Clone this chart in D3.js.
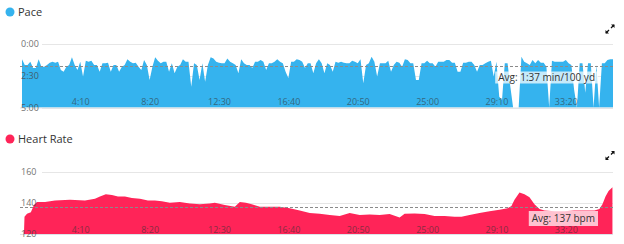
<!DOCTYPE html>
<html>
<head>
<meta charset="utf-8">
<script src="https://cdn.jsdelivr.net/npm/d3@7/dist/d3.min.js"></script>
<style>
  body { margin: 0; background: #fff; }
  svg { display: block; font-family: "Open Sans", sans-serif; }
</style>
</head>
<body>
<div id="chart"></div>
<script>
// pace samples, seconds per 100 yd, one every 10 s starting at 0:40
const paceStart = 40;
const paceStep = 10;
const paceValues = [
  72, 99, 99, 84, 113, 113, 72, 107, 107, 99,
  88, 84, 88, 84, 123, 131, 107, 99, 63, 99,
  123, 84, 154, 79, 84, 79, 99, 99, 131, 91,
  91, 88, 131, 99, 99, 131, 107, 99, 72, 84,
  91, 88, 107, 123, 76, 99, 170, 107, 63, 79,
  91, 84, 84, 131, 91, 138, 107, 99, 72, 84,
  84, 202, 91, 99, 170, 91, 178, 99, 63, 68,
  84, 88, 91, 91, 68, 84, 91, 99, 138, 72,
  91, 99, 99, 113, 84, 84, 76, 84, 123, 91,
  91, 84, 72, 84, 91, 131, 161, 84, 84, 72,
  76, 84, 113, 91, 91, 138, 91, 72, 91, 138,
  91, 99, 131, 84, 88, 84, 88, 91, 91, 79,
  84, 91, 72, 186, 99, 91, 60, 84, 154, 91,
  91, 91, 79, 131, 99, 84, 88, 107, 72, 76,
  91, 91, 170, 170, 91, 91, 79, 91, 91, 107,
  84, 84, 84, 76, 76, 88, 88, 131, 131, 88,
  88, 84, 84, 99, 131, 99, 99, 91, 84, 79,
  154, 84, 249, 265, 91, 91, 202, 310, 310, 310,
  60, 84, 91, 99, 76, 91, 76, 88, 88, 107,
  310, 79, 84, 84, 84, 84, 76, 91, 99, 217,
  310, 91, 91, 230, 91, 91, 310, 99, 310, 91,
  91, 76, 72, 72
];

// heart rate, time in seconds and bpm
const hrTimes = [
  47, 49, 58, 72, 83, 94, 123, 159, 213, 267,
  303, 321, 342, 364, 386, 411, 436, 465, 494, 519,
  544, 573, 609, 645, 681, 717, 735, 771, 807, 825,
  847, 868, 897, 933, 969, 1005, 1041, 1077, 1113, 1149,
  1185, 1221, 1257, 1293, 1329, 1365, 1401, 1419, 1455, 1491,
  1527, 1563, 1599, 1624, 1653, 1689, 1725, 1761, 1790, 1804,
  1815, 1833, 1851, 1869, 1887, 1905, 1923, 1959, 1995, 2031,
  2067, 2103, 2121, 2132, 2143, 2154, 2168
];
const hrValues = [
  120, 131, 133, 134, 138.5, 140.5, 140.5, 141.5, 142, 141.5,
  142.5, 144, 145.5, 145, 144, 144, 143, 142.5, 141.5, 141.5,
  141, 140, 140.5, 139.5, 139, 139.5, 140, 138.5, 137.5, 140.5,
  140, 139, 137.5, 137.5, 137.5, 136.5, 135, 133.5, 133, 132.2,
  131.5, 133.4, 132.2, 132.5, 132.2, 132.8, 130.5, 133, 133.2, 132.8,
  131.5, 131.5, 131, 131, 132.2, 133.5, 134.5, 135.5, 136.5, 138,
  142, 146.5, 145.5, 143.5, 139, 136, 135, 134.5, 134.5, 135,
  135, 135, 136, 139, 144, 147.5, 150
];

const xTicks = [250, 500, 750, 1000, 1250, 1500, 1750, 2000];
const paceTicks = [0, 150, 300];
const hrTicks = [120, 140, 160];

const paceAvgLine = 106;
const paceAvgLabel = 'Avg: 1:37 min/100 yd';
const hrAvg = 137;
const hrAvgLabel = 'Avg: 137 bpm';

const paceColor = '#35b3ee';
const hrColor = '#ff2458';

const fmtTime = s => `${Math.floor(s / 60)}:${String(s % 60).padStart(2, '0')}`;

const svg = d3.select('#chart')
  .append('svg')
  .attr('width', 624)
  .attr('height', 244);

// shared time scale
const x = d3.scaleLinear()
  .domain([40, 2170])
  .range([22, 613]);

const paceData = paceValues.map((v, i) => ({ t: paceStart + i * paceStep, v }));
const hrData = hrTimes.map((t, i) => ({ t, v: hrValues[i] }));

function panel(opts) {
  const g = svg.append('g');
  const y = opts.y;
  const [bottom, top] = y.range();

  // title with coloured dot
  g.append('circle')
    .attr('cx', 10).attr('cy', opts.titleY - 4).attr('r', 4.5)
    .attr('fill', opts.color);
  g.append('text')
    .attr('x', 18).attr('y', opts.titleY)
    .style('font-size', '11px')
    .style('fill', '#333')
    .text(opts.title);

  // gridlines
  g.selectAll('.grid')
    .data(opts.ticks)
    .enter()
    .append('line')
    .attr('x1', 42).attr('x2', 613)
    .attr('y1', d => Math.round(y(d)) + 0.5)
    .attr('y2', d => Math.round(y(d)) + 0.5)
    .attr('stroke', '#e6e6e6');

  // area
  const area = d3.area()
    .x(d => x(d.t))
    .y0(bottom)
    .y1(d => y(d.v));
  g.append('path')
    .datum(opts.data)
    .attr('d', area)
    .attr('fill', opts.color);

  // bottom rule
  g.append('line')
    .attr('x1', 20).attr('x2', 613)
    .attr('y1', bottom + 0.5).attr('y2', bottom + 0.5)
    .attr('stroke', '#dde2e8');

  // average line
  const ay = Math.round(y(opts.avgLine)) + 0.5;
  g.append('line')
    .attr('x1', 20).attr('x2', 613)
    .attr('y1', ay).attr('y2', ay)
    .attr('stroke', '#8a8a8a')
    .attr('stroke-dasharray', '3,2');

  // x axis labels inside the plot
  const xAxis = g.append('g')
    .attr('transform', `translate(0,${opts.xLabelY})`)
    .call(d3.axisBottom(x).tickValues(xTicks).tickFormat(fmtTime).tickSize(0).tickPadding(0));
  xAxis.select('.domain').remove();
  xAxis.selectAll('text')
    .attr('dy', 0)
    .style('font-family', '"Open Sans", sans-serif')
    .style('font-size', '9px')
    .style('fill', '#333')
    .style('opacity', 0.6);

  // y axis labels
  const yAxis = g.append('g')
    .attr('transform', 'translate(21,0)')
    .call(d3.axisRight(y).tickValues(opts.ticks).tickFormat(opts.yFormat).tickSize(0).tickPadding(0));
  yAxis.select('.domain').remove();
  yAxis.selectAll('text')
    .attr('dy', '0.33em')
    .style('font-family', '"Open Sans", sans-serif')
    .style('font-size', '9px')
    .style('fill', '#444')
    .style('opacity', 0.75);

  // average label
  const lbl = g.append('g');
  const txt = lbl.append('text')
    .attr('text-anchor', 'end')
    .attr('x', 595)
    .attr('y', ay + opts.avgTextDy)
    .style('font-size', '10px')
    .style('fill', '#333')
    .text(opts.avgLabel);
  const w = txt.node().getComputedTextLength();
  lbl.insert('rect', 'text')
    .attr('x', 595 - w - 3)
    .attr('y', ay + opts.avgBoxDy)
    .attr('width', w + 6)
    .attr('height', opts.avgBoxH)
    .attr('fill', '#fff')
    .attr('opacity', 0.72);

  // expand icon
  const ix = 610, iy = opts.iconY;
  const icon = g.append('g').attr('transform', `translate(${ix},${iy})`);
  icon.append('path')
    .attr('d', 'M1,-1 L4,-4 M-1,1 L-4,4')
    .attr('stroke', '#111').attr('stroke-width', 1.3);
  icon.append('path')
    .attr('d', 'M1,-4.5 L4.5,-4.5 L4.5,-1 Z M-1,4.5 L-4.5,4.5 L-4.5,1 Z')
    .attr('fill', '#111');
}

panel({
  title: 'Pace',
  titleY: 16,
  color: paceColor,
  data: paceData,
  y: d3.scaleLinear().domain([300, 0]).range([107.5, 44]).clamp(true),
  ticks: paceTicks,
  yFormat: fmtTime,
  xLabelY: 105,
  avgLine: paceAvgLine,
  avgLabel: paceAvgLabel,
  avgTextDy: 14,
  avgBoxDy: 5,
  avgBoxH: 12,
  iconY: 29
});

panel({
  title: 'Heart Rate',
  titleY: 143,
  color: hrColor,
  data: hrData,
  y: d3.scaleLinear().domain([120, 160]).range([234, 171.5]).clamp(true),
  ticks: hrTicks,
  yFormat: d => d,
  xLabelY: 232.5,
  avgLine: hrAvg,
  avgLabel: hrAvgLabel,
  avgTextDy: 14.5,
  avgBoxDy: 3.5,
  avgBoxH: 15,
  iconY: 155.5
});
</script>
</body>
</html>
